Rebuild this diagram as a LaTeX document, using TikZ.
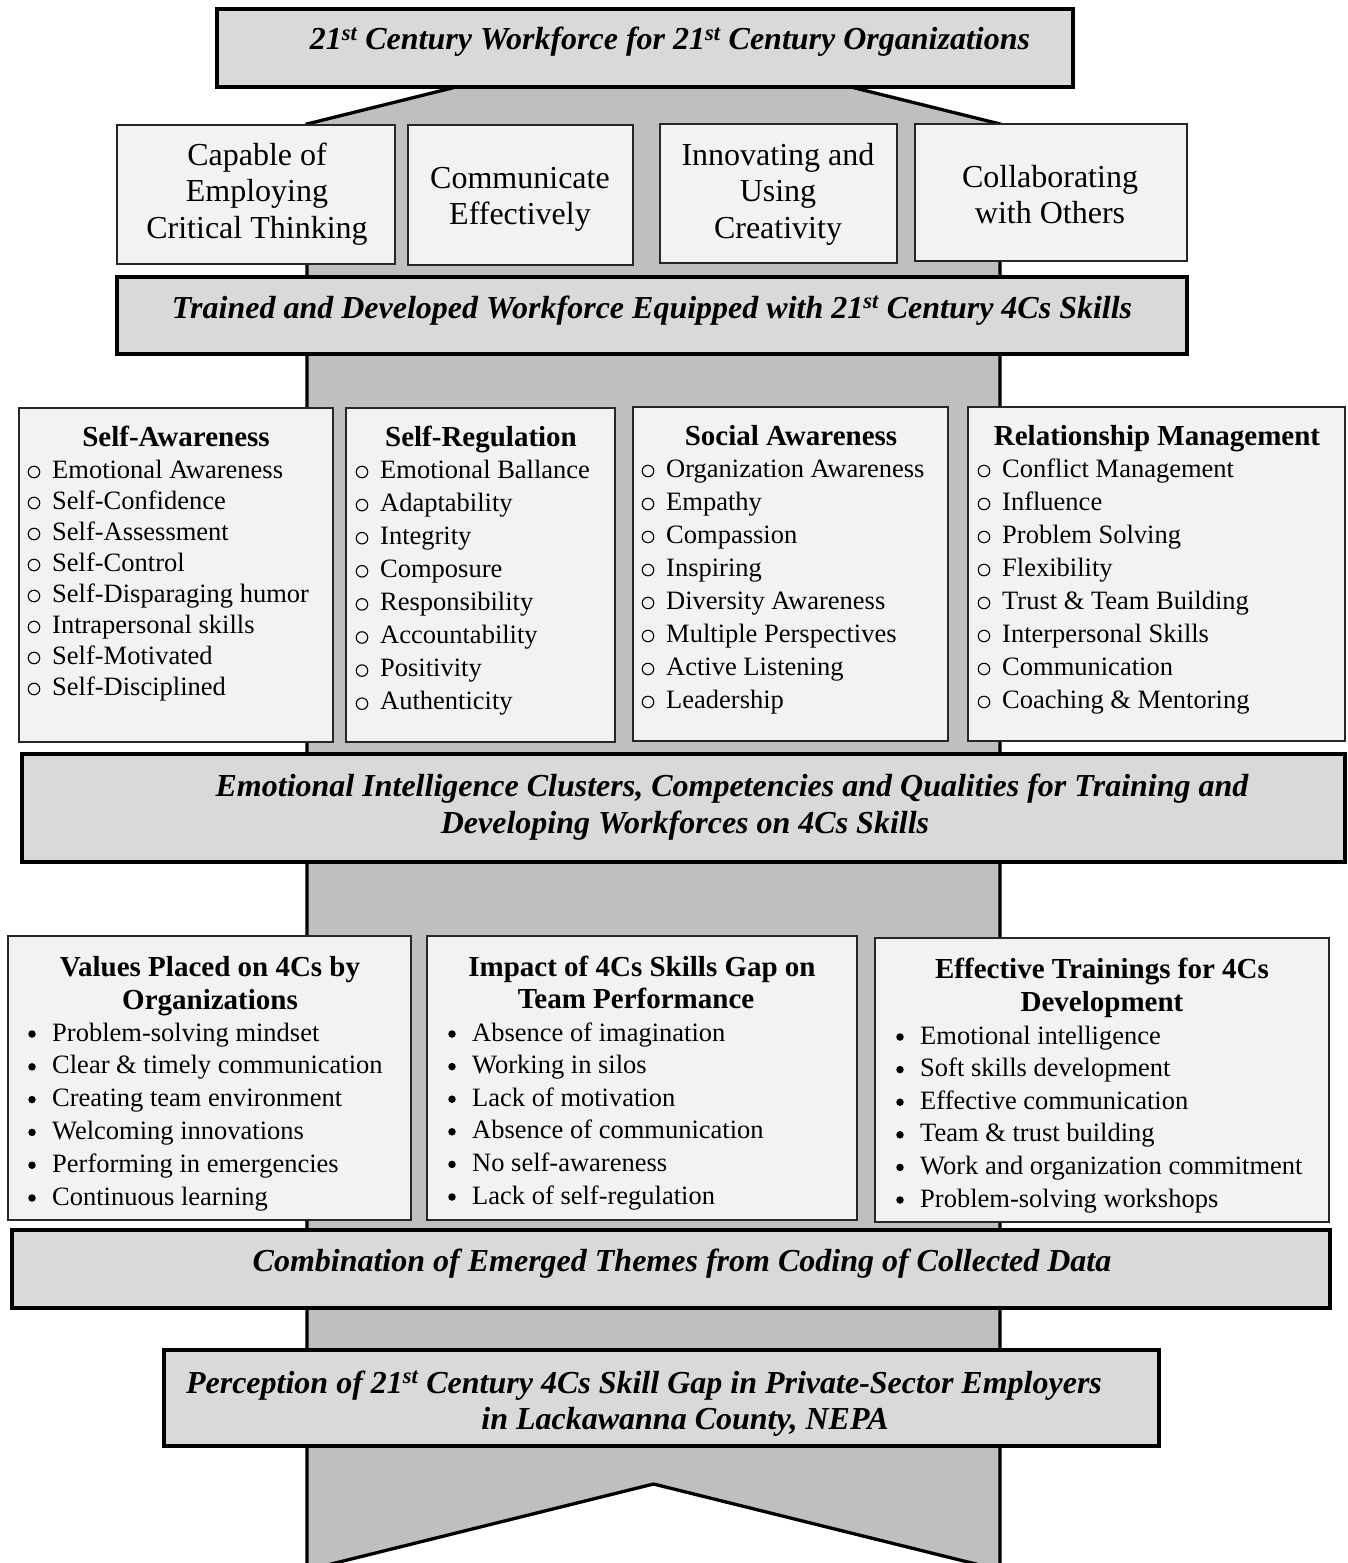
\documentclass[tikz,border=0pt]{standalone}
\usepackage{fontspec}
\setmainfont{Liberation Serif}

\definecolor{shaftgray}{HTML}{BFBFBF}
\definecolor{bandgray}{HTML}{D9D9D9}
\definecolor{cellgray}{HTML}{F2F2F2}

\tikzset{
  shaft/.style={fill=shaftgray, draw=black, line width=3.3pt, line join=miter},
  bandbox/.style={fill=bandgray, draw=black, line width=3.4pt, inner sep=0pt, outer sep=0pt},
  cellbox/.style={fill=cellgray, draw=black!85, line width=1.4pt, inner sep=0pt, outer sep=0pt},
  bandtext/.style={font=\fontsize{32}{36}\selectfont\bfseries\itshape, inner sep=0pt, anchor=base},
  celltext/.style={font=\fontsize{32}{36}\selectfont, inner sep=0pt, anchor=base},
  headtext/.style={font=\fontsize{29}{33}\selectfont\bfseries, inner sep=0pt, anchor=base},
  itemtext/.style={font=\fontsize{26.5}{33}\selectfont, inner sep=0pt, anchor=base west},
  % hollow ring in front of a competency, sitting on the x-height
  ringmark/.style={circle, draw=black, line width=1.1pt, minimum size=11.5pt, inner sep=0pt,
                   xshift=-18pt, yshift=6pt},
  % solid dot in front of a theme entry
  dotmark/.style={circle, fill=black, minimum size=7.5pt, inner sep=0pt,
                  xshift=-20pt, yshift=7pt},
}

% a rectangular panel given by its top-left and bottom-right corners
\newcommand\panel[6]{%
  \pgfmathsetmacro\panelw{#5-#3}%
  \pgfmathsetmacro\panelh{#6-#4}%
  \node[#2, anchor=north west, minimum width=\panelw pt, minimum height=\panelh pt] (#1) at (#3,#4) {};}

% a list of marked entries: prefix, mark style, text x, first baseline, step, entries
\newcommand\itemlist[6]{%
  \foreach \entry [count=\k from 0] in {#6} {%
    \pgfmathsetmacro\yy{#4+\k*#5}%
    \node[#2] (#1m\k) at (#3,\yy) {};%
    \node[itemtext] (#1t\k) at (#3,\yy) {\entry};%
  }}

\begin{document}
\begin{tikzpicture}[x=1pt, y=-1pt]
\useasboundingbox (0,0) rectangle (1347,1563);
\fill[white] (0,0) rectangle (1347,1563);

% the grey arrow running through the whole figure
\draw[shaft] (307,1570) -- (307,124) -- (653.5,38) -- (1000,124) -- (1000,1570) -- (653.5,1484) -- cycle;

% ---------- top level ----------
\panel{goal}{bandbox}{217}{9}{1073}{87}
\node[bandtext] (goaltext) at (670,50) {21\textsuperscript{st} Century Workforce for 21\textsuperscript{st} Century Organizations};

% ---------- the 4Cs ----------
\panel{critical}{cellbox}{117}{125}{395}{264}
\panel{communicate}{cellbox}{408}{125}{633}{265}
\panel{creative}{cellbox}{660}{124}{897}{263}
\panel{collaborate}{cellbox}{915}{124}{1187}{261}

\node[celltext] (crit1) at (257,165.5) {Capable of};
\node[celltext] (crit2) at (257,201.8) {Employing};
\node[celltext] (crit3) at (257,238) {Critical Thinking};
\node[celltext] (comm1) at (520,188.5) {Communicate};
\node[celltext] (comm2) at (520,224.8) {Effectively};
\node[celltext] (crea1) at (778,165.5) {Innovating and};
\node[celltext] (crea2) at (778,201.8) {Using};
\node[celltext] (crea3) at (778,238) {Creativity};
\node[celltext] (coll1) at (1050,187.5) {Collaborating};
\node[celltext] (coll2) at (1050,223.8) {with Others};

\panel{trained}{bandbox}{117}{277}{1187}{354}
\node[bandtext] (trainedtext) at (652,318) {Trained and Developed Workforce Equipped with 21\textsuperscript{st} Century 4Cs Skills};

% ---------- emotional intelligence clusters ----------
\panel{selfaware}{cellbox}{19}{408}{333}{742}
\panel{selfreg}{cellbox}{346}{408}{615}{742}
\panel{social}{cellbox}{633}{407}{948}{741}
\panel{relation}{cellbox}{968}{407}{1345}{741}

\node[headtext] (sahead) at (176,446) {Self-Awareness};
\node[headtext] (srhead) at (481,446) {Self-Regulation};
\node[headtext] (sohead) at (791,445) {Social Awareness};
\node[headtext] (rmhead) at (1157,445) {Relationship Management};

\itemlist{sa}{ringmark}{52}{478}{31}{Emotional Awareness,Self-Confidence,Self-Assessment,Self-Control,Self-Disparaging humor,Intrapersonal skills,Self-Motivated,Self-Disciplined}
\itemlist{sr}{ringmark}{380}{478}{33.1}{Emotional Ballance,Adaptability,Integrity,Composure,Responsibility,Accountability,Positivity,Authenticity}
\itemlist{so}{ringmark}{666}{477}{33}{Organization Awareness,Empathy,Compassion,Inspiring,Diversity Awareness,Multiple Perspectives,Active Listening,Leadership}
\itemlist{rm}{ringmark}{1002}{477}{33}{Conflict Management,Influence,Problem Solving,Flexibility,Trust \& Team Building,Interpersonal Skills,Communication,Coaching \& Mentoring}

\panel{clusters}{bandbox}{22}{754}{1345}{862}
\node[bandtext] (clusters1) at (732,796) {Emotional Intelligence Clusters, Competencies and Qualities for Training and};
\node[bandtext] (clusters2) at (685,833) {Developing Workforces on 4Cs Skills};

% ---------- emerged themes ----------
\panel{values}{cellbox}{8}{936}{411}{1220}
\panel{impact}{cellbox}{427}{936}{857}{1220}
\panel{trainings}{cellbox}{875}{938}{1329}{1222}

\node[headtext] (vahead1) at (210,976) {Values Placed on 4Cs by};
\node[headtext] (vahead2) at (210,1009) {Organizations};
\node[headtext] (imhead1) at (642,976) {Impact of 4Cs Skills Gap on};
\node[headtext] (imhead2) at (636,1008) {Team Performance};
\node[headtext] (trhead1) at (1102,978) {Effective Trainings for 4Cs};
\node[headtext] (trhead2) at (1102,1011) {Development};

\itemlist{va}{dotmark}{52}{1041}{32.8}{Problem-solving mindset,Clear \& timely communication,Creating team environment,Welcoming innovations,Performing in emergencies,Continuous learning}
\itemlist{im}{dotmark}{472}{1041}{32.6}{Absence of imagination,Working in silos,Lack of motivation,Absence of communication,No self-awareness,Lack of self-regulation}
\itemlist{tr}{dotmark}{920}{1044}{32.6}{Emotional intelligence,Soft skills development,Effective communication,Team \& trust building,Work and organization commitment,Problem-solving workshops}

\panel{themes}{bandbox}{12}{1230}{1330}{1308}
\node[bandtext] (themestext) at (682,1271) {Combination of Emerged Themes from Coding of Collected Data};

% ---------- starting point ----------
\panel{perception}{bandbox}{164}{1350}{1159}{1446}
\node[bandtext] (perc1) at (644,1393) {Perception of 21\textsuperscript{st} Century 4Cs Skill Gap in Private-Sector Employers};
\node[bandtext] (perc2) at (685,1429) {in Lackawanna County, NEPA};
\end{tikzpicture}
\end{document}
